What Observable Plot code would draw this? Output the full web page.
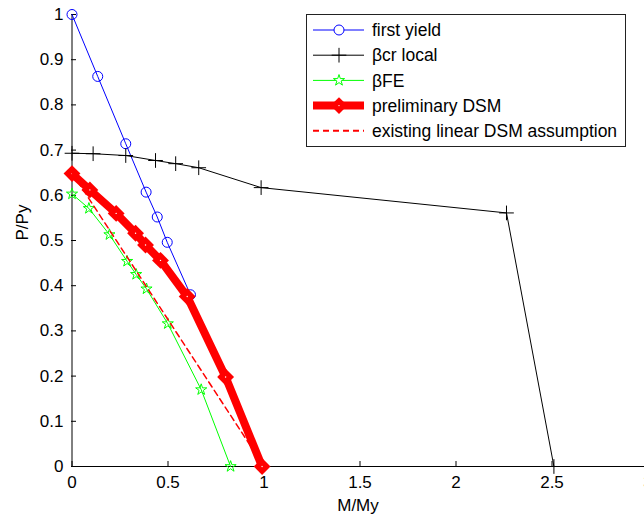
<!DOCTYPE html>
<html>
<head>
<meta charset="utf-8">
<script src="https://cdn.jsdelivr.net/npm/d3@7"></script>
<script src="https://cdn.jsdelivr.net/npm/@observablehq/plot@0.6"></script>
<style>
  html, body { margin: 0; padding: 0; background: #fff; overflow: hidden; }
  #wrap { position: relative; width: 644px; height: 518px; }
  #legend { position: absolute; left: 306px; top: 14px; }
</style>
</head>
<body>
<div id="wrap"></div>
<script>
// ---- data ----
const firstYieldM = [0, 0.134, 0.28, 0.386, 0.444, 0.496, 0.617];
const firstYieldP = [1, 0.863, 0.714, 0.607, 0.552, 0.496, 0.38];

const crLocalM = [0, 0.11, 0.28, 0.435, 0.54, 0.66, 0.985, 2.263, 2.51];
const crLocalP = [0.693, 0.692, 0.688, 0.677, 0.670, 0.661, 0.617, 0.561, 0];

const feM = [0, 0.088, 0.195, 0.287, 0.334, 0.388, 0.499, 0.673, 0.826];
const feP = [0.603, 0.571, 0.513, 0.454, 0.425, 0.393, 0.316, 0.17, 0];

const dsmM = [0, 0.093, 0.23, 0.331, 0.383, 0.461, 0.6, 0.8, 0.99];
const dsmP = [0.648, 0.612, 0.56, 0.516, 0.49, 0.456, 0.376, 0.198, 0];

const linearM = [0, 1];
const linearP = [0.65, 0];

const xTicks = [0, 0.5, 1, 1.5, 2, 2.5, 3];
const yTicks = [0, 0.1, 0.2, 0.3, 0.4, 0.5, 0.6, 0.7, 0.8, 0.9, 1];

const seriesNames = ["first yield", "\u03b2cr local", "\u03b2FE", "preliminary DSM", "existing linear DSM assumption"];
const xLabel = "M/My";
const yLabel = "P/Py";

const zip = (xs, ys) => xs.map((x, i) => ({x, y: ys[i]}));
const firstYield = zip(firstYieldM, firstYieldP);
const crLocal = zip(crLocalM, crLocalP);
const fe = zip(feM, feP);
const dsm = zip(dsmM, dsmP);
const linear = zip(linearM, linearP);

const FONT = "'Liberation Sans', Arial, sans-serif";
const PLUS_R = 4.8, STAR_R = 3.5, DIAMOND_R = 7.6;

const chart = Plot.plot({
  width: 644,
  height: 518,
  marginLeft: 71,
  marginRight: 0,
  marginTop: 14,
  marginBottom: 52,
  style: {fontFamily: FONT, fontSize: "17px", background: "white", color: "black", overflow: "visible"},
  x: {domain: [0, 3], range: [71.5, 647.5], ticks: xTicks, tickFormat: d => String(d)},
  y: {domain: [0, 1], ticks: yTicks, tickFormat: d => String(+d.toFixed(1))},
  marks: [
    Plot.axisX({ticks: xTicks, tickFormat: d => String(d), tickSize: -5, tickPadding: 14, label: null, stroke: "black"}),
    Plot.axisY({ticks: yTicks, tickFormat: d => String(+d.toFixed(1)), tickSize: -5, tickPadding: 13, label: null, stroke: "black"}),
    Plot.ruleY([0], {stroke: "black", strokeWidth: 1}),
    Plot.ruleX([0], {stroke: "black", strokeWidth: 1}),
    // first yield
    Plot.line(firstYield, {x: "x", y: "y", stroke: "#0000ff", strokeWidth: 1}),
    Plot.dot(firstYield, {x: "x", y: "y", r: 5, symbol: "circle", stroke: "#0000ff", fill: "none", strokeWidth: 1}),
    // beta cr local
    Plot.line(crLocal, {x: "x", y: "y", stroke: "black", strokeWidth: 1}),
    Plot.dot(crLocal, {x: "x", y: "y", r: PLUS_R, symbol: "plus", stroke: "black", fill: "none", strokeWidth: 1}),
    // beta FE
    Plot.line(fe, {x: "x", y: "y", stroke: "#00ff00", strokeWidth: 1}),
    Plot.dot(fe, {x: "x", y: "y", r: STAR_R, symbol: "star", stroke: "#00ff00", fill: "none", strokeWidth: 1}),
    // preliminary DSM
    Plot.line(dsm, {x: "x", y: "y", stroke: "#ff0000", strokeWidth: 8, strokeLinejoin: "round"}),
    Plot.dot(dsm, {x: "x", y: "y", r: DIAMOND_R, symbol: "diamond2", fill: "#ff0000", stroke: "none"}),
    Plot.dot(dsm, {x: "x", y: "y", r: 0.7, fill: "white", stroke: "none"}),
    // existing linear DSM assumption
    Plot.line(linear, {x: "x", y: "y", stroke: "#ff0000", strokeWidth: 1.5, strokeDasharray: "6,4"}),
    // axis titles
    Plot.text([xLabel], {frameAnchor: "bottom", text: d => d, dy: 44, lineAnchor: "bottom", fontSize: 17, fill: "black"}),
    Plot.text([yLabel], {frameAnchor: "left", text: d => d, dx: -56, rotate: -90, lineAnchor: "top", fontSize: 17, fill: "black"})
  ]
});
const wrap = document.getElementById("wrap");
wrap.appendChild(chart);

// ---- legend (drawn in the top right, as in the reference) ----
const colors = ["#0000ff", "black", "#00ff00", "#ff0000", "#ff0000"];
const LW = 320, LH = 133, rowY0 = 16, rowStep = 25.2;
const leg = d3.create("svg").attr("id", "legend").attr("width", LW).attr("height", LH)
  .style("font-family", FONT).style("font-size", "17.5px");
leg.append("rect").attr("x", 0.5).attr("y", 0.5).attr("width", LW - 1).attr("height", LH - 1)
  .attr("fill", "white").attr("stroke", "#222").attr("stroke-width", 1);
seriesNames.forEach((name, i) => {
  const cy = rowY0 + i * rowStep;
  const g = leg.append("g").attr("transform", `translate(0,${cy})`);
  const line = g.append("line").attr("x1", 7).attr("x2", 58).attr("y1", 0).attr("y2", 0).attr("stroke", colors[i]);
  if (i === 3) line.attr("stroke-width", 8);
  else if (i === 4) line.attr("stroke-width", 2).attr("stroke-dasharray", "6,4");
  else line.attr("stroke-width", 1);
  const mx = 33;
  if (i === 0) g.append("circle").attr("cx", mx).attr("cy", 0).attr("r", 5).attr("fill", "white").attr("stroke", colors[0]);
  if (i === 1) g.append("path").attr("transform", `translate(${mx},0)`).attr("d", d3.symbol(d3.symbolPlus, Math.PI * PLUS_R * PLUS_R)()).attr("fill", "none").attr("stroke", "black");
  if (i === 2) g.append("path").attr("transform", `translate(${mx},0)`).attr("d", d3.symbol(d3.symbolStar, Math.PI * STAR_R * STAR_R)()).attr("fill", "white").attr("stroke", colors[2]).attr("stroke-width", 1);
  if (i === 3) {
    g.append("path").attr("transform", `translate(${mx},0)`).attr("d", d3.symbol(d3.symbolDiamond2, Math.PI * DIAMOND_R * DIAMOND_R)()).attr("fill", colors[3]);
    g.append("circle").attr("cx", mx).attr("cy", 0).attr("r", 0.7).attr("fill", "white");
  }
  g.append("text").attr("x", 66).attr("y", 0).attr("dy", "0.35em").attr("fill", "black").text(name);
});
wrap.appendChild(leg.node());
</script>
</body>
</html>
